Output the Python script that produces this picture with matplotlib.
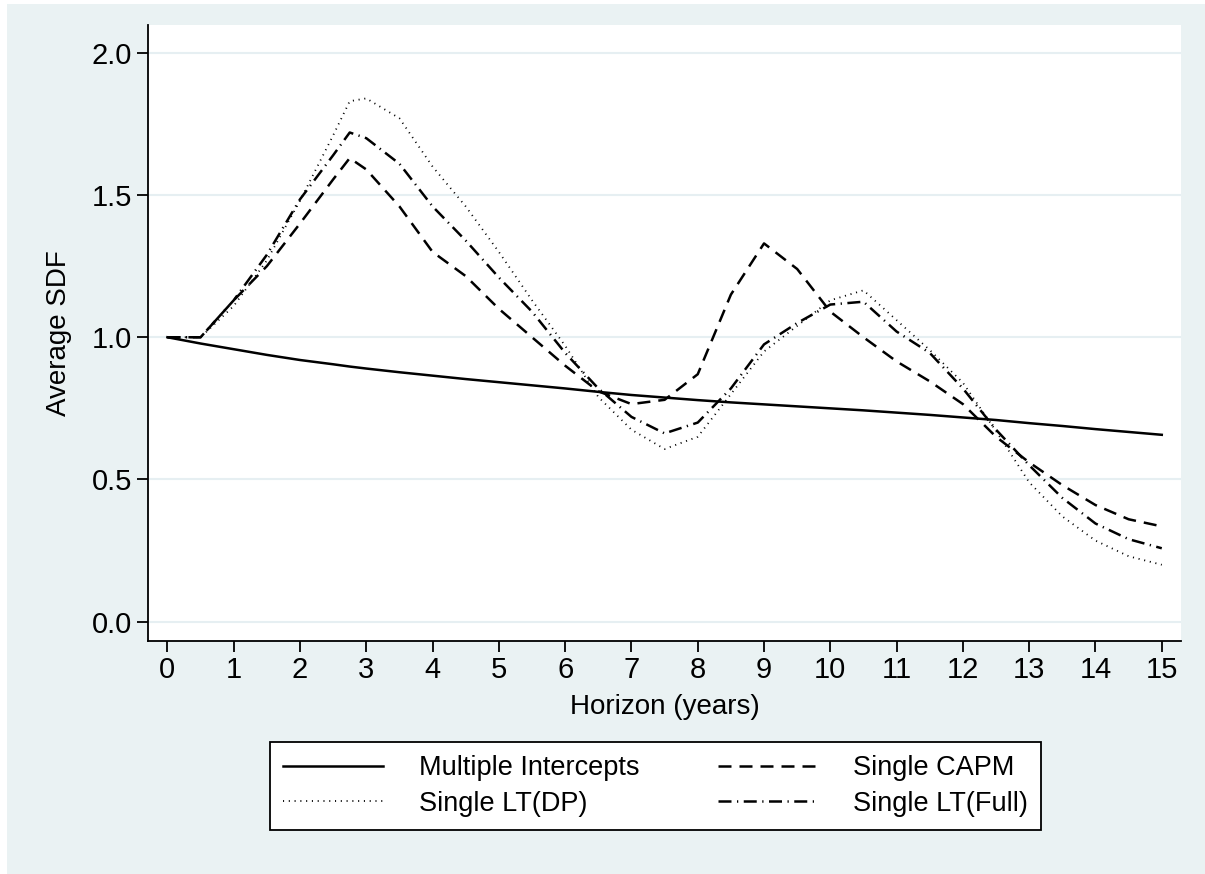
import matplotlib.pyplot as plt
from matplotlib.patches import Rectangle

plt.rcParams["font.family"] = ["Liberation Sans", "DejaVu Sans"]

# Horizon grid (years)
horizon = [0, 0.5, 1, 1.5, 2, 2.5, 2.75, 3, 3.5, 4, 4.5, 5, 5.5, 6, 6.5, 7, 7.5,
           8, 8.5, 9, 9.5, 10, 10.5, 11, 11.5, 12, 12.5, 13, 13.5, 14, 14.5, 15]

multiple_intercepts = [1.0, 0.978, 0.958, 0.938, 0.92, 0.905, 0.897, 0.89, 0.877, 0.865,
                       0.853, 0.842, 0.831, 0.82, 0.808, 0.797, 0.788, 0.779, 0.771, 0.764,
                       0.757, 0.75, 0.743, 0.735, 0.727, 0.718, 0.709, 0.698, 0.688, 0.677,
                       0.667, 0.657]

single_capm = [1.0, 1.0, 1.13, 1.25, 1.40, 1.555, 1.63, 1.59, 1.46, 1.30,
               1.215, 1.10, 1.0, 0.90, 0.81, 0.765, 0.78, 0.87, 1.15, 1.33,
               1.24, 1.09, 1.0, 0.915, 0.845, 0.765, 0.65, 0.56, 0.48, 0.41,
               0.36, 0.335]

single_lt_dp = [1.0, 1.0, 1.11, 1.27, 1.48, 1.71, 1.83, 1.84, 1.77, 1.60,
                1.46, 1.30, 1.13, 0.97, 0.79, 0.675, 0.607, 0.65, 0.80, 0.95,
                1.04, 1.13, 1.165, 1.06, 0.955, 0.84, 0.67, 0.49, 0.37, 0.285,
                0.23, 0.2]

single_lt_full = [1.0, 1.0, 1.13, 1.29, 1.485, 1.64, 1.72, 1.70, 1.61, 1.46,
                  1.34, 1.21, 1.09, 0.945, 0.82, 0.72, 0.662, 0.70, 0.82, 0.975,
                  1.05, 1.115, 1.125, 1.02, 0.945, 0.82, 0.675, 0.55, 0.435, 0.345,
                  0.29, 0.258]

x_ticks = list(range(0, 16))
y_ticks = [0.0, 0.5, 1.0, 1.5, 2.0]

BG = "#eaf2f3"
W, H = 1205, 874

fig = plt.figure(figsize=(W / 100, H / 100), dpi=100)
fig.patch.set_facecolor("white")
fig.patches.append(Rectangle((7 / W, 0), 1 - 7 / W, 1 - 4 / H, transform=fig.transFigure,
                             facecolor=BG, edgecolor="none", zorder=-10))

ax = fig.add_axes([148 / W, 1 - 640.7 / H, (1181 - 148) / W, (640.7 - 25) / H])
ax.set_facecolor("white")

lw = 1.8
ax.plot(horizon, multiple_intercepts, color="black", lw=lw, label="Multiple Intercepts")
ax.plot(horizon, single_lt_dp, color="black", lw=1.3, dashes=(0.6, 2.6),
        label="Single LT(DP)")
ax.plot(horizon, single_capm, color="black", lw=lw, dashes=(5.2, 3.2),
        label="Single CAPM")
ax.plot(horizon, single_lt_full, color="black", lw=lw, dashes=(5.2, 2.2, 0.5, 2.2),
        label="Single LT(Full)")

ax.set_xlim(-0.293, 15.29)
ax.set_ylim(-0.067, 2.098)
ax.set_xticks(x_ticks)
ax.set_yticks(y_ticks)
ax.set_yticklabels([f"{v:.1f}" for v in y_ticks])
ax.grid(axis="y", color="#e6eff2", lw=1.5)
ax.set_axisbelow(True)
for s in ["top", "right"]:
    ax.spines[s].set_visible(False)
for s in ["left", "bottom"]:
    ax.spines[s].set_linewidth(1.3)
ax.tick_params(labelsize=21, length=8, width=1.3, colors="black")
ax.tick_params(axis="x", pad=3)
ax.set_xlabel("Horizon (years)", fontsize=20, labelpad=7)
ax.set_ylabel("Average SDF", fontsize=20, labelpad=14)

leg = fig.legend(loc="center", bbox_to_anchor=(655.5 / W, 1 - 786 / H), ncol=2,
                 fontsize=19.5, frameon=True, fancybox=False, edgecolor="black",
                 framealpha=1, facecolor="white",
                 handlelength=3.7, handletextpad=1.3, columnspacing=2.9,
                 borderpad=0.5, labelspacing=0.35)
leg.get_frame().set_linewidth(1.3)

fig.savefig("out.png", dpi=100, facecolor=fig.get_facecolor())
